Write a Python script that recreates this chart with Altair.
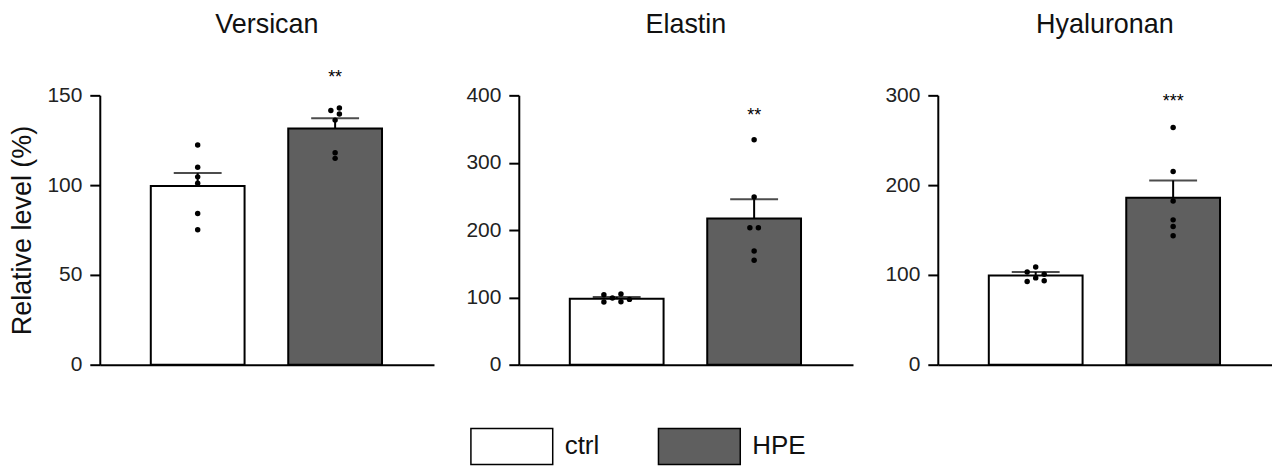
import altair as alt
import pandas as pd

FONT = "Liberation Sans"

groups = ["ctrl", "HPE"]
bar_colors = ["#ffffff", "#5f5f5f"]
panel_names = ["Versican", "Elastin", "Hyaluronan"]
y_max = [150, 400, 300]
y_ticks = [[0, 50, 100, 150], [0, 100, 200, 300, 400], [0, 100, 200, 300]]

# bar height (mean) and SEM, [ctrl, HPE]
versican_mean = [99.5, 131.5]
versican_sem = [7.2, 5.8]
elastin_mean = [98.0, 217.0]
elastin_sem = [2.6, 28.6]
hyaluronan_mean = [99.3, 186.0]
hyaluronan_sem = [4.0, 19.2]

# single samples; nudge = sideways shift in half-dot steps so dots don't overlap
versican_ctrl = [122.3, 109.9, 104.6, 101.1, 84.2, 75.1]
versican_ctrl_nudge = [0, 0, 0, 0, 0, 0]
versican_hpe = [141.6, 142.9, 139.6, 136.2, 118.0, 114.9]
versican_hpe_nudge = [-1, 1, 1, 0, 0, 0]
elastin_ctrl = [104.0, 93.1, 99.0, 105.0, 93.6, 97.0]
elastin_ctrl_nudge = [-3, -3, -1, 1, 1, 3]
elastin_hpe = [334.2, 249.0, 203.5, 203.5, 168.8, 155.0]
elastin_hpe_nudge = [0, 0, -1, 1, 0, 0]
hyaluronan_ctrl = [103.3, 108.9, 100.7, 96.7, 92.6, 93.4]
hyaluronan_ctrl_nudge = [-2, 0, 2, 0, -2, 2]
hyaluronan_hpe = [264.2, 215.1, 182.3, 161.3, 153.9, 143.5]
hyaluronan_hpe_nudge = [0, 0, 0, 0, 0, 0]

# significance marks over HPE
stars = ["**", "**", "***"]
star_level = [157, 362, 287]

W, H = 335, 270
color_scale = alt.Scale(domain=groups, range=bar_colors)
# group slot -> x; one slot = 142 px, a nudge step = 4.4 px
slot_expr = "indexof(%s, datum.group)" % str(groups)
x_scale = alt.Scale(domain=[-0.676, 1.683], nice=False, zero=False)
x_axis = alt.Axis(
    labels=False, ticks=False, title=None, grid=False, domainColor="black", domainWidth=2
)


def panel(i, mean, sem, ctrl, ctrl_nudge, hpe, hpe_nudge):
    bars = pd.DataFrame(
        {"group": groups, "mean": mean, "top": [m + s for m, s in zip(mean, sem)]}
    )
    dots = pd.DataFrame(
        {
            "group": ["ctrl"] * len(ctrl) + ["HPE"] * len(hpe),
            "value": ctrl + hpe,
            "nudge": ctrl_nudge + hpe_nudge,
        }
    )
    note = pd.DataFrame({"group": ["HPE"], "level": [star_level[i]], "label": [stars[i]]})

    x = alt.X("slot:Q", scale=x_scale, axis=x_axis)
    y_title = "Relative level (%)" if i == 0 else None
    y_axis = alt.Axis(
        values=y_ticks[i],
        grid=False,
        tickSize=10,
        tickWidth=2,
        tickColor="black",
        domainColor="black",
        domainWidth=2,
        labelFontSize=21,
        labelPadding=8,
        labelColor="#222",
        labelFont=FONT,
        titleFont=FONT,
        titleFontSize=27,
        titleFontWeight="normal",
        titleColor="#111",
        titlePadding=10,
    )
    y_scale = alt.Scale(domain=[0, y_max[i]], nice=False)

    def y(field):
        return alt.Y(f"{field}:Q", scale=y_scale, axis=y_axis, title=y_title)

    base = alt.Chart(bars).transform_calculate(slot=slot_expr).encode(x=x)
    bar = base.mark_bar(stroke="black", strokeWidth=2, size=94).encode(
        y=y("mean"), color=alt.Color("group:N", scale=color_scale, legend=None)
    )
    err = base.mark_rule(color="black", strokeWidth=2).encode(y=y("mean"), y2="top:Q")
    cap = base.mark_tick(color="black", thickness=2, size=48, orient="horizontal").encode(
        y=y("top")
    )
    pts = (
        alt.Chart(dots)
        .transform_calculate(slot=slot_expr + " + datum.nudge * 0.031")
        .mark_circle(color="black", size=30, opacity=1)
        .encode(x=x, y=y("value"))
    )
    sig = (
        alt.Chart(note)
        .transform_calculate(slot=slot_expr)
        .mark_text(fontSize=18, font=FONT, baseline="alphabetic", color="black")
        .encode(x=x, y=y("level"), text="label:N")
    )
    head = (
        alt.Chart(pd.DataFrame({"name": [panel_names[i]]}))
        .mark_text(fontSize=27, font=FONT, baseline="alphabetic", color="#111")
        .encode(x=alt.value(W / 2), y=alt.value(-62), text="name:N")
    )
    return alt.layer(bar, err, cap, pts, sig, head).properties(width=W, height=H)


panels = alt.hconcat(
    panel(0, versican_mean, versican_sem, versican_ctrl, versican_ctrl_nudge, versican_hpe, versican_hpe_nudge),
    panel(1, elastin_mean, elastin_sem, elastin_ctrl, elastin_ctrl_nudge, elastin_hpe, elastin_hpe_nudge),
    panel(2, hyaluronan_mean, hyaluronan_sem, hyaluronan_ctrl, hyaluronan_ctrl_nudge, hyaluronan_hpe, hyaluronan_hpe_nudge),
    spacing=31,
)

# legend drawn as its own strip under the panels: one box + label per group, 188 px apart
key = alt.Chart(pd.DataFrame({"group": groups})).transform_calculate(slot=slot_expr)
key_x = alt.X("slot:Q", axis=None, scale=alt.Scale(domain=[-2.197, 1.633], nice=False, zero=False))
key_box = key.mark_point(
    shape="M-1,-0.44H1V0.44H-1Z", size=6724, filled=True, stroke="black", strokeWidth=1.5, opacity=1
).encode(x=key_x, fill=alt.Fill("group:N", scale=color_scale, legend=None))
key_text = key.mark_text(
    align="left", baseline="middle", dx=53, fontSize=26, font=FONT, color="#111"
).encode(x=key_x, text="group:N")
legend = alt.layer(key_box, key_text).properties(width=720, height=36)

chart = (
    alt.vconcat(panels, legend, spacing=50)
    .properties(padding={"left": 0, "top": 3, "right": 0, "bottom": 0})
    .configure_view(stroke=None)
)

chart.save("out.html", embed_options={"renderer": "svg", "actions": False})
